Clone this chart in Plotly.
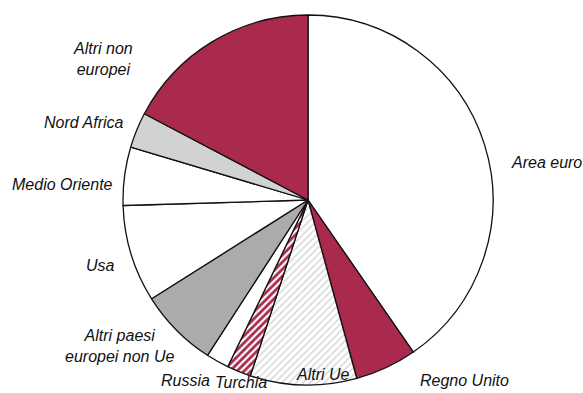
import plotly.graph_objects as go

# Shares by destination (percent), clockwise from 12 o'clock
categories = ["Area euro", "Regno Unito", "Altri Ue", "Turchia", "Russia",
              "Altri paesi europei non Ue", "Usa", "Medio Oriente",
              "Nord Africa", "Altri non europei"]
shares = [40.4, 5.4, 9.3, 2.1, 2.0, 6.9, 8.5, 5.1, 3.1, 17.3]

# Label text as drawn (with line breaks)
label_text = ["Area euro", "Regno Unito", "Altri Ue", "Turchia", "Russia",
              "Altri paesi<br>europei non Ue", "Usa", "Medio Oriente",
              "Nord Africa", "Altri non<br>europei"]

W, H = 583, 393
RED = "#A92A4D"

fills = [
    dict(color="white"),
    dict(color=RED),
    dict(color="white", pattern=dict(shape="/", fgcolor="#D8D8D8", bgcolor="white",
                                     solidity=0.3)),
    dict(color="white", pattern=dict(shape="/", fgcolor=RED, bgcolor="white",
                                     solidity=0.55)),
    dict(color="white"),
    dict(color="#ABABAB"),
    dict(color="white"),
    dict(color="white"),
    dict(color="#D2D2D2"),
    dict(color=RED),
]

colors = [f["color"] for f in fills]
patterns = [f.get("pattern", dict(shape="")) for f in fills]
pattern = dict(
    shape=[p.get("shape", "") for p in patterns],
    fgcolor=[p.get("fgcolor", "black") for p in patterns],
    bgcolor=[p.get("bgcolor", "white") for p in patterns],
    size=5,
    solidity=[p.get("solidity", 0.5) for p in patterns],
    fillmode="replace",
)

cx, cy, r = 308, 200, 185
dom_x = [(cx - r) / W, (cx + r) / W]
dom_y = [1 - (cy + r) / H, 1 - (cy - r) / H]

fig = go.Figure(go.Pie(
    labels=categories,
    values=shares,
    sort=False,
    direction="clockwise",
    rotation=0,
    textinfo="none",
    hoverinfo="label+percent",
    marker=dict(colors=colors, pattern=pattern,
                line=dict(color="#111111", width=1.3)),
    domain=dict(x=dom_x, y=dom_y),
    showlegend=False,
))

# Label anchor points (pixels)
label_pos = [(546, 162), (464, 380), (323, 374), (241, 382), (185, 380),
             (120, 346), (100, 265), (62, 185), (84, 122), (103, 59)]

for txt, (px, py) in zip(label_text, label_pos):
    fig.add_annotation(
        x=px / W, y=1 - py / H, xref="paper", yref="paper",
        text=f"<i>{txt}</i>", showarrow=False,
        xanchor="center", yanchor="middle", align="center",
        font=dict(family="Liberation Sans, Arial, sans-serif", size=16, color="#111111"),
    )

fig.update_layout(
    width=W, height=H,
    margin=dict(l=0, r=0, t=0, b=0),
    paper_bgcolor="white",
    plot_bgcolor="white",
)

fig.write_html("out.html")
